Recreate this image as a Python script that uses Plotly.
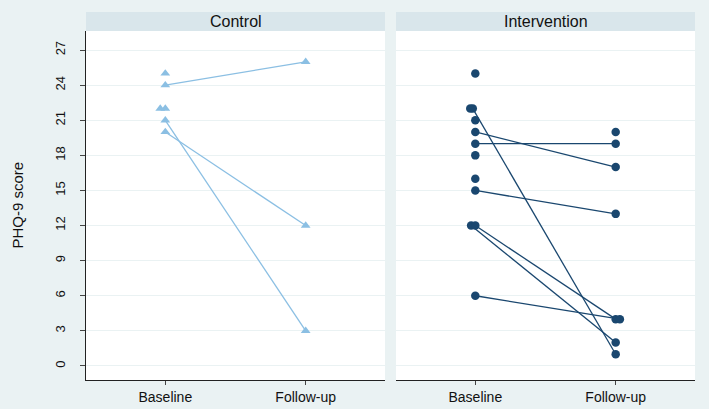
import plotly.graph_objects as go

# ---- data ----
time_labels = ["Baseline", "Follow-up"]
y_ticks = [0, 3, 6, 9, 12, 15, 18, 21, 24, 27]

control_baseline = [25, 24, 22, 22, 21, 20]
control_followup = [None, 26, None, None, 3, 12]
control_base_jitter = [0, 0, -0.036, 0, 0, 0]
control_follow_jitter = [0, 0, 0, 0, 0, 0]

interv_baseline = [25, 22, 22, 21, 20, 19, 18, 16, 15, 12, 12, 6, None]
interv_followup = [None, 1, None, None, 17, 19, None, None, 13, 2, 4, 4, 20]
interv_base_jitter = [0, -0.018, -0.036, 0, 0, 0, 0, 0, 0, -0.03, 0, 0, 0]
interv_follow_jitter = [0, 0, 0, 0, 0, 0, 0, 0, 0, 0, 0, 0.03, 0]

CTRL_COLOR = "#8BBFE3"
INT_COLOR = "#1A476F"
BG = "#EAF2F3"
HEADER = "#D9E6EB"
FONT = "Liberation Sans, Arial, sans-serif"

fig = go.Figure()


def add_group(baseline, followup, bj, fj, color, symbol, xa, ya):
    lx, ly, mx, my = [], [], [], []
    for b, f, jb, jf in zip(baseline, followup, bj, fj):
        if b is not None:
            mx.append(0 + jb); my.append(b)
        if f is not None:
            mx.append(1 + jf); my.append(f)
        if b is not None and f is not None:
            lx += [0 + jb, 1 + jf, None]
            ly += [b, f, None]
    fig.add_trace(go.Scatter(x=lx, y=ly, mode="lines", xaxis=xa, yaxis=ya,
                             line=dict(color=color, width=1.3), showlegend=False,
                             hoverinfo="skip"))
    fig.add_trace(go.Scatter(x=mx, y=my, mode="markers", xaxis=xa, yaxis=ya,
                             marker=dict(color=color, symbol=symbol, size=8.5,
                                         line=dict(width=0)),
                             showlegend=False))


add_group(control_baseline, control_followup, control_base_jitter,
          control_follow_jitter, CTRL_COLOR, "triangle-up", "x", "y")
add_group(interv_baseline, interv_followup, interv_base_jitter,
          interv_follow_jitter, INT_COLOR, "circle", "x2", "y")

W, H = 709, 409
ml, mr, mt, mb = 86, 14, 31, 29
pw = W - ml - mr
ph = H - mt - mb
d1 = 299 / pw
d2 = (396 - ml) / pw

xcommon = dict(range=[-0.565, 1.565], tickvals=[0, 1], ticktext=time_labels,
               showgrid=False, zeroline=False, showline=True, linecolor="#222222",
               linewidth=1, ticks="outside", ticklen=4, tickcolor="#444444",
               tickfont=dict(family=FONT, size=14, color="#111111"), fixedrange=True)

fig.update_layout(
    width=W, height=H,
    margin=dict(l=ml, r=mr, t=mt, b=mb, autoexpand=False),
    paper_bgcolor=BG, plot_bgcolor="white",
    xaxis=dict(domain=[0, d1], anchor="y", automargin=False, **xcommon),
    xaxis2=dict(domain=[d2, 1], anchor="y", automargin=False, **xcommon),
    yaxis=dict(range=[-1.2, 28.63], tickvals=y_ticks, showgrid=True,
               gridcolor=BG, gridwidth=1, zeroline=False, showline=True,
               linecolor="#222222", linewidth=1, ticks="outside", ticklen=5,
               tickcolor="#444444", tickangle=-90, ticklabelstandoff=10,
               automargin=False, fixedrange=True,
               tickfont=dict(family=FONT, size=13, color="#111111")),
    font=dict(family=FONT),
)

# background shows in the gap between panels
fig.add_shape(type="rect", xref="paper", yref="paper", x0=d1, x1=d2, y0=-0.02,
              y1=1.0, fillcolor=BG, line=dict(width=0), layer="above")

hdr_top = 1 + 19 / ph
for x0, x1, label in [(0, d1, "Control"), (d2, 1, "Intervention")]:
    fig.add_shape(type="rect", xref="paper", yref="paper", x0=x0, x1=x1,
                  y0=1.0, y1=hdr_top, fillcolor=HEADER, line=dict(width=0))
    fig.add_annotation(x=(x0 + x1) / 2, y=(1 + hdr_top) / 2, xref="paper",
                       yref="paper", text=label, showarrow=False,
                       font=dict(family=FONT, size=16, color="#111111"),
                       xanchor="center", yanchor="middle")

fig.add_annotation(x=(17 - ml) / pw, y=0.5, xref="paper", yref="paper",
                   text="PHQ-9 score", textangle=-90, showarrow=False,
                   font=dict(family=FONT, size=15, color="#111111"),
                   xanchor="center", yanchor="middle")

fig.write_html("out.html", config={"displayModeBar": False},
               post_script="document.body.style.margin='0';")
